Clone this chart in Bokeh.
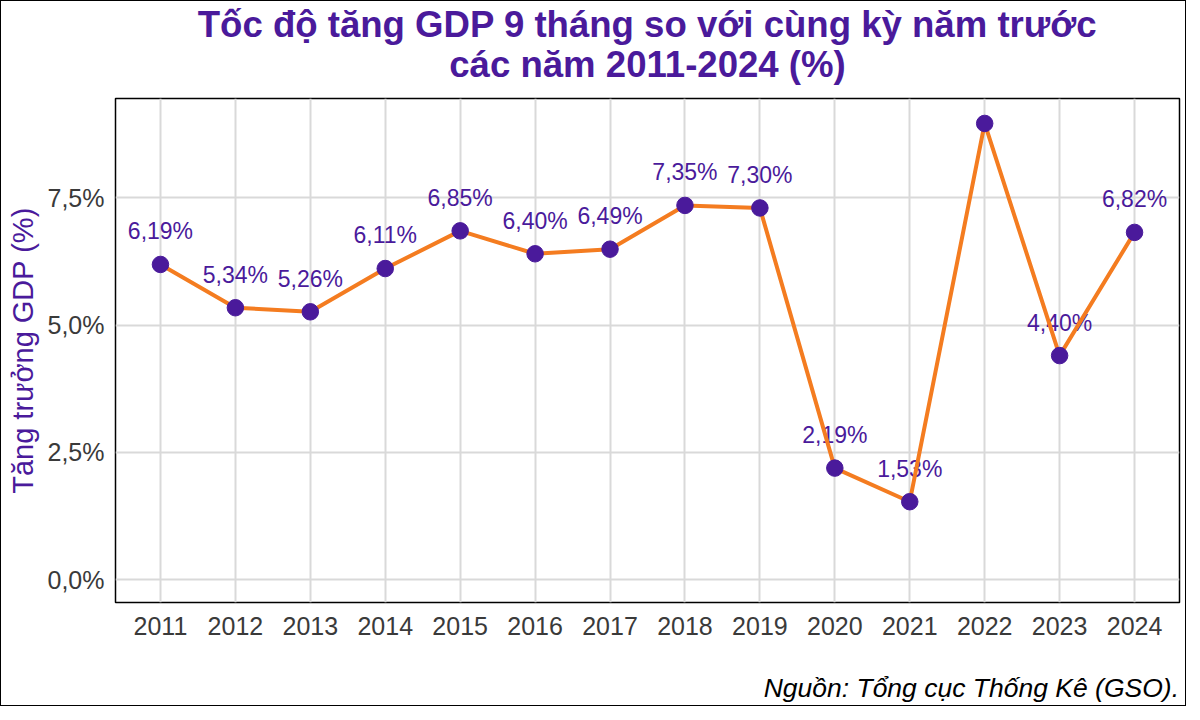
from bokeh.plotting import figure
from bokeh.models import Range1d, FixedTicker, Title, Div
from bokeh.layouts import column
from bokeh.embed import file_html
from bokeh.resources import INLINE
from bokeh.core.properties import value

# ---- data ----
years = [2011, 2012, 2013, 2014, 2015, 2016, 2017, 2018, 2019, 2020, 2021, 2022, 2023, 2024]
growth = [6.19, 5.34, 5.26, 6.11, 6.85, 6.40, 6.49, 7.35, 7.30, 2.19, 1.53, 8.96, 4.40, 6.82]
y_ticks = [0.0, 2.5, 5.0, 7.5]
y_tick_labels = ["0,0%", "2,5%", "5,0%", "7,5%"]
title_line1 = "Tốc độ tăng GDP 9 tháng so với cùng kỳ năm trước"
title_line2 = "các năm 2011-2024 (%)"
y_title = "Tăng trưởng GDP (%)"
caption = "Nguồn: Tổng cục Thống Kê (GSO)."

PURPLE = "#4A1A9B"
ORANGE = "#F47C20"
FONT = "Liberation Sans"
Y_MIN, Y_MAX = 0.0, 9.0
Y_PAD = 0.45
X_MIN, X_MAX = 2010.4, 2024.6
LABEL_OFFSET = 0.65

W = 1184
FIG_H = 670
CAP_H = 34
p = figure(width=W, height=FIG_H, output_backend="svg", toolbar_location=None,
           title=None,
           x_range=Range1d(X_MIN, X_MAX), y_range=Range1d(Y_MIN - Y_PAD, Y_MAX + Y_PAD),
           min_border_left=114, min_border_right=6, min_border_top=97,
           min_border_bottom=FIG_H - 601, margin=(0, 0, 0, 0))

p.background_fill_color = "white"
p.border_fill_color = "white"
p.outline_line_color = "black"
p.outline_line_width = 1.5

# grid
p.xgrid.ticker = FixedTicker(ticks=years)
p.ygrid.ticker = FixedTicker(ticks=y_ticks)
for g in (p.xgrid, p.ygrid):
    g.grid_line_color = "#D9D9D9"
    g.grid_line_width = 2
    g.minor_grid_line_color = None

# axes
p.xaxis.ticker = FixedTicker(ticks=years)
p.yaxis.ticker = FixedTicker(ticks=y_ticks)
p.yaxis.major_label_overrides = {t: l for t, l in zip(y_ticks, y_tick_labels)}
for ax in (p.xaxis, p.yaxis):
    ax.axis_line_color = None
    ax.major_tick_line_color = None
    ax.minor_tick_line_color = None
    ax.major_tick_out = 0
    ax.major_tick_in = 0
    ax.major_label_text_font = FONT
    ax.major_label_text_font_size = "25px"
    ax.major_label_text_color = "#3A3A3A"
p.xaxis.major_label_standoff = 14
p.yaxis.major_label_standoff = 11
p.yaxis.axis_label = y_title
p.yaxis.axis_label_text_font = FONT
p.yaxis.axis_label_text_font_size = "29px"
p.yaxis.axis_label_text_font_style = "normal"
p.yaxis.axis_label_text_color = PURPLE
p.yaxis.axis_label_standoff = 6

# labels (dropped when outside the y limit, like the original)
lab_x = [x for x, v in zip(years, growth) if v + LABEL_OFFSET <= Y_MAX]
lab_y = [v + LABEL_OFFSET for v in growth if v + LABEL_OFFSET <= Y_MAX]
lab_t = [("%.2f%%" % v).replace(".", ",") for v in growth if v + LABEL_OFFSET <= Y_MAX]
p.text(x=lab_x, y=lab_y, text=lab_t, text_font=value(FONT), text_font_size="23px",
       text_color=PURPLE, text_align="center", text_baseline="middle")

p.line(years, growth, line_color=ORANGE, line_width=4)
p.scatter(years, growth, size=16.5, fill_color=PURPLE, line_color=PURPLE)

# titles
t2 = Title(text=title_line2, align="center", text_font=FONT, text_font_size="36.6px",
           text_font_style="bold", text_color=PURPLE, standoff=28)
t1 = Title(text=title_line1, align="center", text_font=FONT, text_font_size="36.6px",
           text_font_style="bold", text_color=PURPLE, standoff=-34)
p.add_layout(t2, "above")
p.add_layout(t1, "above")

# caption
cap = Div(text=caption, width=W - 6, height=CAP_H, margin=(0, 0, 0, 0),
          styles={"font-family": FONT, "font-size": "26.5px", "font-style": "italic",
                  "text-align": "right", "color": "black", "line-height": "%dpx" % CAP_H,
                  "white-space": "nowrap"})

root = column(p, cap, spacing=0, margin=(0, 0, 0, 0),
              styles={"border": "1px solid black", "background-color": "white"})

open("out.html", "w").write(file_html(root, INLINE))
